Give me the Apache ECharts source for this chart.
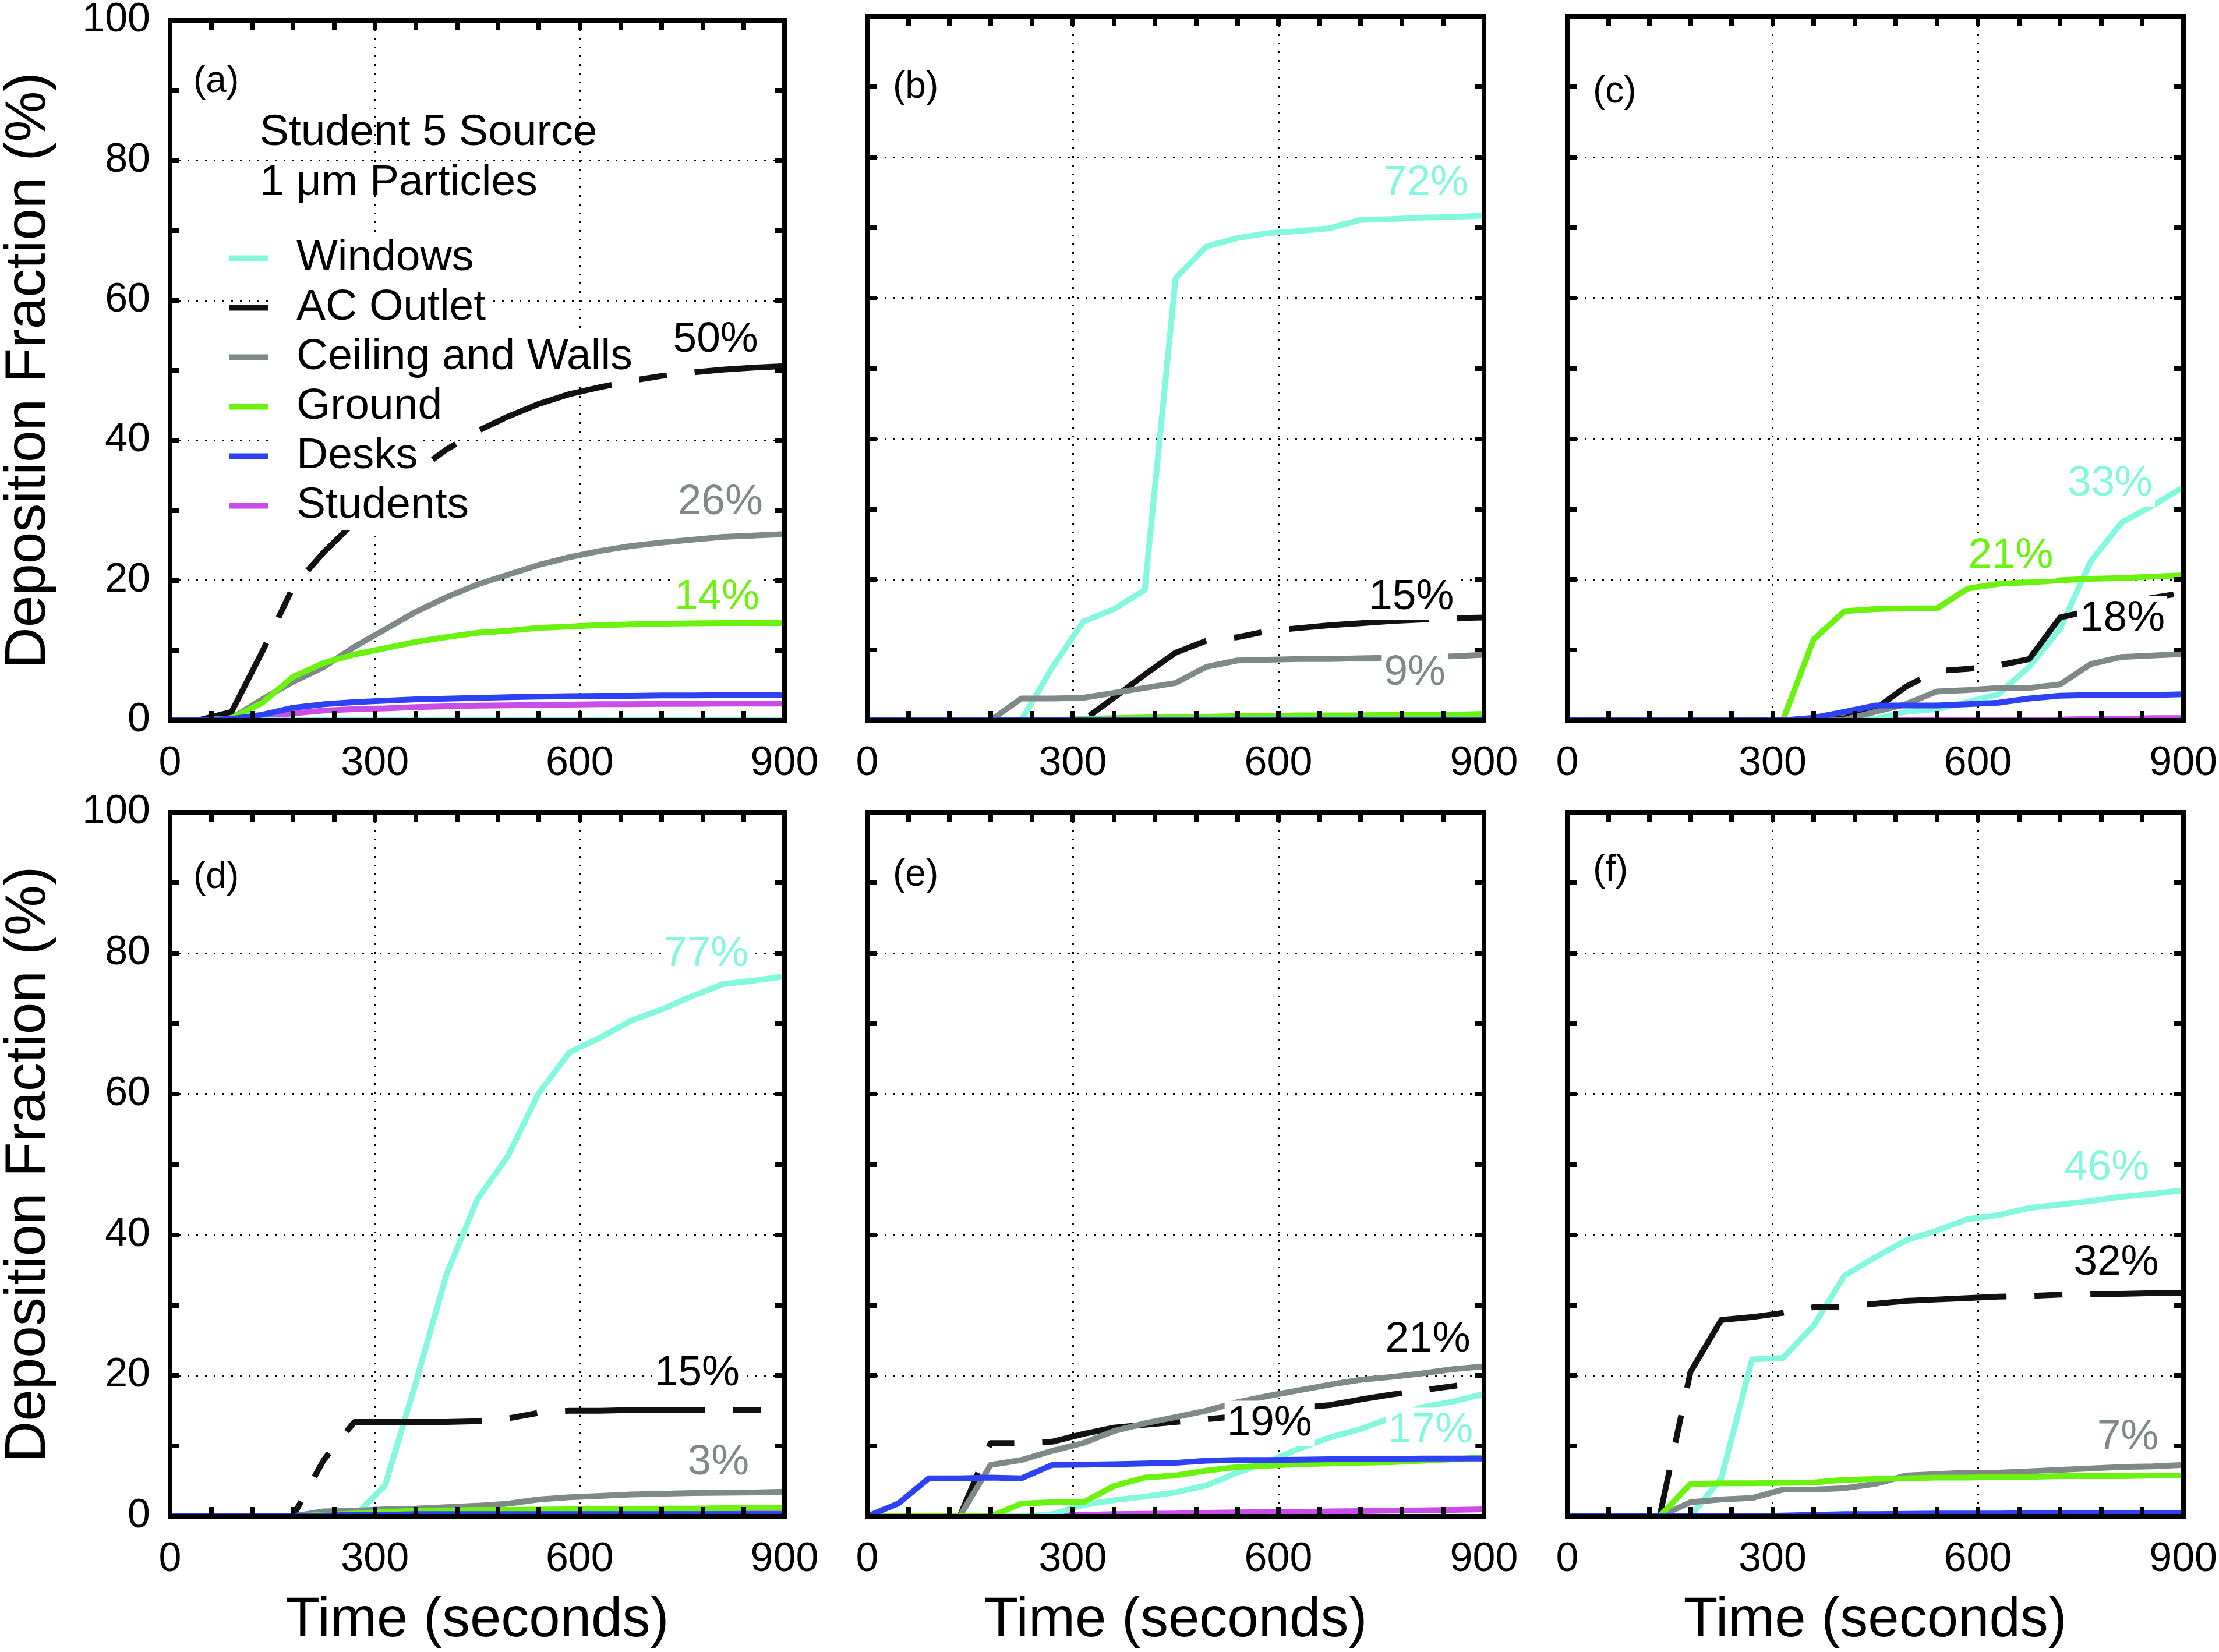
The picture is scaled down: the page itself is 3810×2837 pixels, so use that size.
<!DOCTYPE html>
<html><head><meta charset="utf-8">
<script src="https://cdn.jsdelivr.net/npm/echarts@6/dist/echarts.min.js"></script>
<style>html,body{margin:0;padding:0;background:#fff}#c{width:3810px;height:2837px}</style>
</head><body><div id="c"></div>
<script>
// ---- data ----
const times = [0,45,90,135,180,225,270,315,360,405,450,495,540,585,630,675,720,765,810,855,900];
const seriesNames = ['Windows','AC Outlet','Ceiling and Walls','Ground','Desks','Students'];
const panelLabels = ['(a)','(b)','(c)','(d)','(e)','(f)'];
const xTicks = [0,300,600,900];
const yTicks = [0,20,40,60,80,100];
const noteLines = ['Student 5 Source','1 \u03bcm Particles'];

// panel (a)
const aWindows  = [0,0,0,0,0,0,0,0,0,0,0,0,0,0,0,0,0,0,0,0,0];
const aAC       = [0,0.1,1.2,9.8,19.0,24.0,28.3,31.5,35.5,38.7,41.3,43.4,45.2,46.6,47.6,48.5,49.2,49.7,50.1,50.4,50.6];
const aCeil     = [0,0,0.3,3.0,5.5,7.6,10.5,13.0,15.5,17.6,19.4,20.8,22.2,23.3,24.2,24.9,25.4,25.8,26.2,26.4,26.6];
const aGround   = [0,0,0.3,2.5,6.2,8.2,9.4,10.3,11.2,11.9,12.5,12.8,13.2,13.4,13.6,13.7,13.8,13.85,13.9,13.9,13.9];
const aDesks    = [0,0,0.2,0.8,1.8,2.3,2.6,2.8,3.0,3.1,3.2,3.3,3.4,3.45,3.5,3.5,3.55,3.55,3.6,3.6,3.6];
const aStudents = [0,0,0.1,0.5,1.0,1.4,1.6,1.7,1.9,2.0,2.1,2.15,2.2,2.25,2.3,2.3,2.35,2.35,2.4,2.4,2.4];
const aNotes = [['50%',799,54.3,1],['26%',806,31.1,2],['14%',801,17.6,3]];

// panel (b)
const bWindows  = [0,0,0,0,0,0,7.5,14.0,15.8,18.5,62.8,67.3,68.5,69.2,69.5,69.9,71.1,71.2,71.4,71.5,71.7];
const bAC       = [0,0,0,0,0,0,0,0,3.2,6.5,9.6,11.3,11.8,12.7,13.1,13.5,13.8,14.1,14.3,14.5,14.6];
const bCeil     = [0,0,0,0,0,3.1,3.1,3.2,3.9,4.6,5.3,7.6,8.5,8.6,8.7,8.7,8.8,8.9,9.0,9.1,9.3];
const bGround   = [0,0,0,0,0,0,0,0.2,0.3,0.4,0.5,0.5,0.6,0.6,0.7,0.7,0.7,0.8,0.8,0.8,0.9];
const bDesks    = [0,0,0,0,0,0,0,0,0,0,0,0,0,0,0,0,0,0,0,0,0];
const bStudents = [0,0,0,0,0,0,0,0,0,0,0,0,0,0,0,0,0,0,0,0,0];
const bNotes = [['72%',815,76.3,0],['15%',794,17.5,1],['9%',799,6.7,2]];

// panel (c)
const cWindows  = [0,0,0,0,0,0,0,0,0,0,0.2,1.2,1.6,2.6,3.7,7.6,13.0,22.6,28.1,30.5,33.1];
const cAC       = [0,0,0,0,0,0,0,0,0,0.3,1.6,4.8,7.0,7.3,7.8,8.7,14.6,15.6,16.6,17.4,18.1];
const cCeil     = [0,0,0,0,0,0,0,0,0,0.1,1.2,2.3,4.1,4.3,4.6,4.6,5.1,8.0,9.0,9.2,9.4];
const cGround   = [0,0,0,0,0,0,0,0,11.5,15.5,15.8,15.9,15.9,18.7,19.4,19.6,19.9,20.1,20.2,20.4,20.6];
const cDesks    = [0,0,0,0,0,0,0,0,0.35,1.2,2.1,2.1,2.1,2.3,2.5,3.1,3.5,3.6,3.6,3.6,3.7];
const cStudents = [0,0,0,0,0,0,0,0,0,0,0,0,0,0,0,0,0.1,0.2,0.2,0.3,0.3];
const cNotes = [['33%',793,33.6,0],['21%',648,23.3,3],['18%',811,14.4,1]];

// panel (d)
const dWindows  = [0,0,0,0,0,0,0,4.4,19.0,34.4,45.0,51.2,60.1,65.9,68.0,70.4,72.0,73.9,75.6,76.1,76.7];
const dAC       = [0,0,0,0,0,8.0,13.4,13.4,13.4,13.4,13.5,13.9,14.7,15.0,15.0,15.1,15.1,15.1,15.1,15.1,15.1];
const dCeil     = [0,0,0,0,0,0.7,0.8,1.0,1.1,1.3,1.5,1.8,2.4,2.7,2.9,3.1,3.2,3.3,3.35,3.4,3.5];
const dGround   = [0,0,0,0,0,0.2,0.4,0.6,0.8,0.85,0.9,0.9,0.95,1.0,1.0,1.05,1.1,1.1,1.15,1.2,1.2];
const dDesks    = [0,0,0,0,0,0.1,0.2,0.2,0.3,0.3,0.3,0.3,0.3,0.3,0.3,0.3,0.3,0.3,0.3,0.3,0.3];
const dStudents = [0,0,0,0,0,0.3,0.5,0.7,0.8,0.8,0.8,0.85,0.85,0.85,0.9,0.9,0.9,0.9,0.95,0.95,1.0];
const dNotes = [['77%',785,79.8,0],['15%',772,20.3,1],['3%',803,7.6,2]];

// panel (e)
const eWindows  = [0,0,0,0,0,0,0.3,1.6,2.3,2.8,3.4,4.4,6.2,7.7,9.6,11.2,12.4,14.0,15.5,16.3,17.4];
const eAC       = [0,0,0,0,10.4,10.4,10.6,11.7,12.6,13.0,13.4,13.8,14.2,14.7,15.4,15.8,16.6,17.3,17.9,18.5,19.1];
const eCeil     = [0,0,0,0,7.3,8.0,9.3,10.4,12.1,13.2,14.1,15.0,16.2,17.1,17.9,18.7,19.4,19.8,20.3,20.9,21.3];
const eGround   = [0,0,0,0,0,1.8,2.0,2.0,4.3,5.5,5.8,6.5,7.0,7.2,7.4,7.5,7.6,7.7,7.9,8.1,8.4];
const eDesks    = [0,1.8,5.4,5.4,5.5,5.4,7.3,7.35,7.4,7.5,7.6,7.9,8.0,8.0,8.05,8.1,8.1,8.15,8.2,8.2,8.2];
const eStudents = [0,0,0,0,0,0,0.1,0.2,0.3,0.35,0.4,0.5,0.55,0.6,0.65,0.7,0.75,0.8,0.85,0.9,1.0];
const eNotes = [['21%',818,25.1,1],['19%',587,13.2,1],['17%',822,12.2,0]];

// panel (f)
const fWindows  = [0,0,0,0,0,5.4,22.3,22.5,27.1,34.2,36.8,39.2,40.6,42.2,42.8,43.8,44.3,44.8,45.4,45.8,46.3];
const fAC       = [0,0,0,0,20.5,27.9,28.3,28.9,29.7,29.8,30.2,30.6,30.8,31.0,31.2,31.3,31.5,31.6,31.6,31.7,31.7];
const fCeil     = [0,0,0,0,2.0,2.4,2.6,3.8,3.8,4.0,4.6,5.8,6.0,6.2,6.2,6.4,6.6,6.8,7.0,7.1,7.3];
const fGround   = [0,0,0,0,4.6,4.7,4.7,4.75,4.8,5.2,5.3,5.4,5.5,5.5,5.6,5.6,5.7,5.7,5.7,5.8,5.8];
const fDesks    = [0,0,0,0,0,0,0,0.1,0.2,0.3,0.3,0.35,0.4,0.4,0.4,0.45,0.45,0.5,0.5,0.5,0.5];
const fStudents = [0,0,0,0,0,0,0,0,0,0,0,0,0,0,0,0,0,0,0,0,0];
const fNotes = [['46%',788,49.5,0],['32%',802,36.0,1],['7%',819,11.2,2]];

// ---- styling / layout ----
const FONT = '"Liberation Sans", Arial, Helvetica, sans-serif';
const seriesColors = ['#84F8DE','#111111','#7F8A88','#6BF20E','#2D41F5','#C94DE8'];
const noteColors   = ['#84F8DE','#000000','#7F8A88','#6BF20E','#2D41F5','#C94DE8'];
const drawOrder = [5,0,1,2,3,4];
const AC_DASH = [240,48,48,48];
const lefts = [288,1489,2691], widths = [1059,1059,1060], tops = [28,1395], H = 1209;
const labelOffsets = [112,122,130,112,108,100];

const panels = [
  [aWindows,aAC,aCeil,aGround,aDesks,aStudents,aNotes],
  [bWindows,bAC,bCeil,bGround,bDesks,bStudents,bNotes],
  [cWindows,cAC,cCeil,cGround,cDesks,cStudents,cNotes],
  [dWindows,dAC,dCeil,dGround,dDesks,dStudents,dNotes],
  [eWindows,eAC,eCeil,eGround,eDesks,eStudents,eNotes],
  [fWindows,fAC,fCeil,fGround,fDesks,fStudents,fNotes]
];

const grids=[], xAxes=[], yAxes=[], series=[], graphics=[];
const axLine = {show:true, onZero:false, lineStyle:{color:'#000', width:8, cap:'square'}};
const tick = {show:true, inside:true, length:16, lineStyle:{color:'#000', width:8}};
const minorX = {show:true, splitNumber:5, length:16, lineStyle:{color:'#000', width:8}};
const minorY = {show:true, splitNumber:2, length:16, lineStyle:{color:'#000', width:8}};
const dotted = {show:true, lineStyle:{color:'#000', width:3, type:[3,12]}};
const xBase = {type:'value', min:xTicks[0], max:xTicks[xTicks.length-1], interval:xTicks[1]-xTicks[0]};
const yBase = {type:'value', min:yTicks[0], max:yTicks[yTicks.length-1], interval:yTicks[1]-yTicks[0]};

panels.forEach((p,i)=>{
  const col=i%3, row=Math.floor(i/3);
  grids.push({left:lefts[col], top:tops[row], width:widths[col], height:H, show:true,
    borderColor:'#000', borderWidth:8, backgroundColor:'#fff'});
  xAxes.push(Object.assign({}, xBase, {gridIndex:i, position:'bottom', z:5, axisLine:axLine, axisTick:tick, minorTick:minorX,
    splitLine:{show:false},
    axisLabel:{show:true, margin:40, fontSize:70, color:'#000', fontFamily:FONT},
    name: row===1 ? 'Time (seconds)' : '', nameLocation:'middle', nameGap:132,
    nameTextStyle:{fontSize:96, color:'#000', fontFamily:FONT}}));
  xAxes.push(Object.assign({}, xBase, {gridIndex:i, position:'top', z:5, axisLine:axLine, axisTick:tick, minorTick:minorX,
    splitLine:{show:false}, axisLabel:{show:false}}));
  xAxes.push(Object.assign({}, xBase, {gridIndex:i, position:'top', z:1, axisLine:{show:false}, axisTick:{show:false},
    axisLabel:{show:false}, splitLine:dotted}));
  yAxes.push(Object.assign({}, yBase, {gridIndex:i, position:'left', z:5, axisLine:axLine, axisTick:tick, minorTick:minorY,
    splitLine:{show:false},
    axisLabel:{show:col===0, margin:34, fontSize:70, color:'#000', fontFamily:FONT},
    name: col===0 ? 'Deposition Fraction (%)' : '', nameLocation:'middle', nameGap:193,
    nameTextStyle:{fontSize:98, color:'#000', fontFamily:FONT}}));
  yAxes.push(Object.assign({}, yBase, {gridIndex:i, position:'right', z:5, axisLine:axLine, axisTick:tick, minorTick:minorY,
    splitLine:{show:false}, axisLabel:{show:false}}));
  yAxes.push(Object.assign({}, yBase, {gridIndex:i, position:'right', z:1, axisLine:{show:false}, axisTick:{show:false},
    axisLabel:{show:false}, splitLine:dotted}));

  drawOrder.forEach((k,order)=>{
    series.push({type:'line', name:seriesNames[k], xAxisIndex:3*i, yAxisIndex:3*i, z:2+order*0.01,
      data: times.map((t,j)=>[t, p[k][j]]), showSymbol:false, symbol:'none', silent:true,
      lineStyle:{width:10, color:seriesColors[k], type: k===1 ? AC_DASH : 'solid', join:'round'},
      itemStyle:{color:seriesColors[k]}});
  });
  series.push({type:'scatter', name:'notes'+i, xAxisIndex:3*i, yAxisIndex:3*i, z:8, silent:true,
    symbol:'circle', symbolSize:1, itemStyle:{color:'rgba(255,255,255,0)', opacity:1},
    emphasis:{disabled:true},
    data: p[6].map(n=>({value:[n[1],n[2]], label:{formatter:n[0], color:noteColors[n[3]]}})),
    label:{show:true, position:'inside', opacity:1, fontSize:73, fontFamily:FONT, backgroundColor:'#fff', padding:[0,4], lineHeight:78}});

  graphics.push({type:'text', x:lefts[col]+44, y:tops[row]+labelOffsets[i], z:20,
    style:{text:panelLabels[i], font:'64px '+FONT, fill:'#000', textAlign:'left', textVerticalAlign:'middle', align:'left', verticalAlign:'middle'}});
});

graphics.push({type:'text', x:446, y:228, z:20, style:{text:noteLines[0], font:'75px '+FONT, fill:'#000', textAlign:'left', textVerticalAlign:'middle', align:'left', verticalAlign:'middle'}});
graphics.push({type:'text', x:446, y:314, z:20, style:{text:noteLines[1], font:'75px '+FONT, fill:'#000', textAlign:'left', textVerticalAlign:'middle', align:'left', verticalAlign:'middle'}});

const chart = echarts.init(document.getElementById('c'), null, {renderer:'canvas', width:3810, height:2837});
chart.setOption({
  animation:false,
  backgroundColor:'#fff',
  grid:grids, xAxis:xAxes, yAxis:yAxes, series:series, graphic:graphics,
  legend:{show:true, data:seriesNames, orient:'vertical', left:393, top:401, padding:0, itemGap:0,
    icon:'rect', itemWidth:67, itemHeight:10, itemStyle:{borderWidth:0},
    selectedMode:false,
    textStyle:{fontSize:75, color:'#000', fontFamily:FONT, lineHeight:85, backgroundColor:'#fff', padding:[0,0,0,44]}}
});
</script></body></html>
